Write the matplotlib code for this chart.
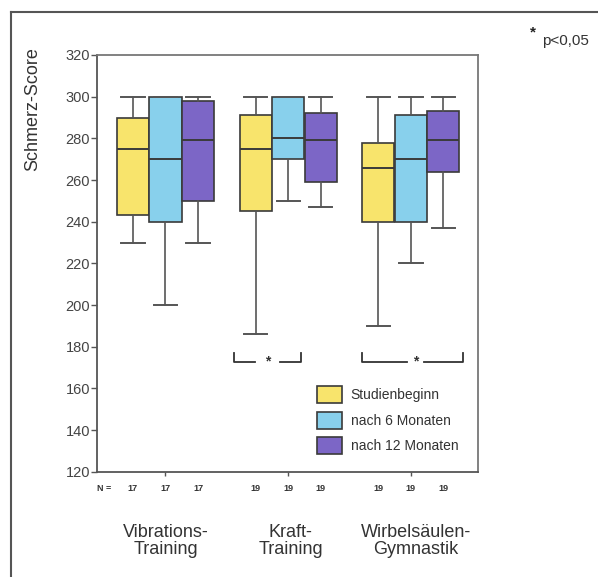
import matplotlib.pyplot as plt
from matplotlib.patches import Patch
from matplotlib.transforms import blended_transform_factory

plt.rcParams['font.family'] = ['Liberation Sans', 'DejaVu Sans']

groups = ["Vibrations-\nTraining", "Kraft-\nTraining", "Wirbelsäulen-\nGymnastik"]
series = ["Studienbeginn", "nach 6 Monaten", "nach 12 Monaten"]
colors = ["#f8e46c", "#88d0ec", "#7c66c6"]

# per group: [yellow, blue, purple]
whislo = [[230, 200, 230], [186, 250, 247], [190, 220, 237]]
q1     = [[243, 240, 250], [245, 270, 259], [240, 240, 264]]
med    = [[275, 270, 279], [275, 280, 279], [266, 270, 279]]
q3     = [[290, 300, 298], [291, 300, 292], [278, 291, 293]]
whishi = [[300, 300, 300], [300, 300, 300], [300, 300, 300]]
n_vals = [[17, 17, 17], [19, 19, 19], [19, 19, 19]]

fig = plt.figure(figsize=(5.98, 5.77), dpi=100)
ax = fig.add_axes([97/598, 1-471.7/577, 381/598, 416.7/577])

w = 0.262
off = 0.265
for g in range(3):
    for s in range(3):
        st = [dict(whislo=whislo[g][s], q1=q1[g][s], med=med[g][s],
                   q3=q3[g][s], whishi=whishi[g][s], fliers=[])]
        ax.bxp(st, positions=[g + 1 + (s - 1) * off], widths=w,
               patch_artist=True, showfliers=False,
               boxprops=dict(facecolor=colors[s], edgecolor='#3a3a3a', lw=1.2),
               medianprops=dict(color='#3a3a3a', lw=1.4),
               whiskerprops=dict(color='#555555', lw=1.2),
               capprops=dict(color='#555555', lw=1.4),
               capwidths=0.19, manage_ticks=False)

ax.set_xlim(0.442, 3.547)
ax.set_ylim(120, 320)
ax.set_yticks(range(120, 321, 20))
ax.set_xticks([1, 2, 3])
ax.set_xticklabels([])
ax.tick_params(axis='y', labelsize=10.5, length=4, width=1, color='#555555',
               labelcolor='#444444', pad=1)
ax.tick_params(axis='x', length=3, width=1, color='#555555')
for sp in ax.spines.values():
    sp.set_color('#777777')
    sp.set_linewidth(1.3)
ax.spines['left'].set_color('#555555')
ax.spines['bottom'].set_color('#555555')

ax.set_ylabel("Schmerz-Score", fontsize=13, color='#333333')
ax.yaxis.set_label_coords(-0.168, 0.87)
ax.yaxis.label.set_va('center')

# significance brackets
def bracket(x0, x1, xs, gap):
    y, yt = 172.8, 177
    ax.plot([x0, x0, xs - gap], [yt, y, y], color='#333333', lw=1.3)
    ax.plot([xs + gap, x1, x1], [y, y, yt], color='#333333', lw=1.3)
    ax.text(xs, y, "*", ha='center', va='center', fontsize=10,
            fontweight='bold', color='#333333')

bracket(1.558, 2.102, 1.833, 0.1)
bracket(2.604, 3.427, 3.039, 0.07)

# N row and group labels
tr = blended_transform_factory(ax.transData, ax.transAxes)
ax.text(0.445, -0.04, "N =", transform=tr, fontsize=6.5, fontweight='bold',
        color='#333333', ha='left', va='center')
for g in range(3):
    for s in range(3):
        ax.text(g + 1 + (s - 1) * off, -0.04, str(n_vals[g][s]), transform=tr,
                fontsize=6.5, fontweight='bold', color='#333333',
                ha='center', va='center')
    ax.text(g + 1 + 0.02 * g, -0.167, groups[g], transform=tr, fontsize=13,
            color='#333333', ha='center', va='center', linespacing=1.0)

handles = [Patch(facecolor=c, edgecolor='#3a3a3a', lw=1.2) for c in colors]
fig.legend(handles, series, loc='upper left',
           bbox_to_anchor=(316.7/598, 1-386/577), bbox_transform=fig.transFigure,
           frameon=False, fontsize=10, handlelength=1.8, handleheight=1.5,
           labelspacing=0.62, handletextpad=0.65, borderpad=0, borderaxespad=0,
           labelcolor='#333333')

fig.text(530/598, 1-32/577, "*", fontsize=11, fontweight='bold',
         color='#222222', ha='left', va='center')
fig.text(542/598, 1-41/577, "p<0,05", fontsize=11, color='#333333',
         ha='left', va='center')

# outer frame lines (top and left)
fig.add_artist(plt.Line2D([11/598, 1], [1-12/577, 1-12/577], color='#555555',
                          lw=1.5, transform=fig.transFigure))
fig.add_artist(plt.Line2D([11/598, 11/598], [0, 1-12/577], color='#555555',
                          lw=1.5, transform=fig.transFigure))

fig.savefig("out.png", dpi=100)
